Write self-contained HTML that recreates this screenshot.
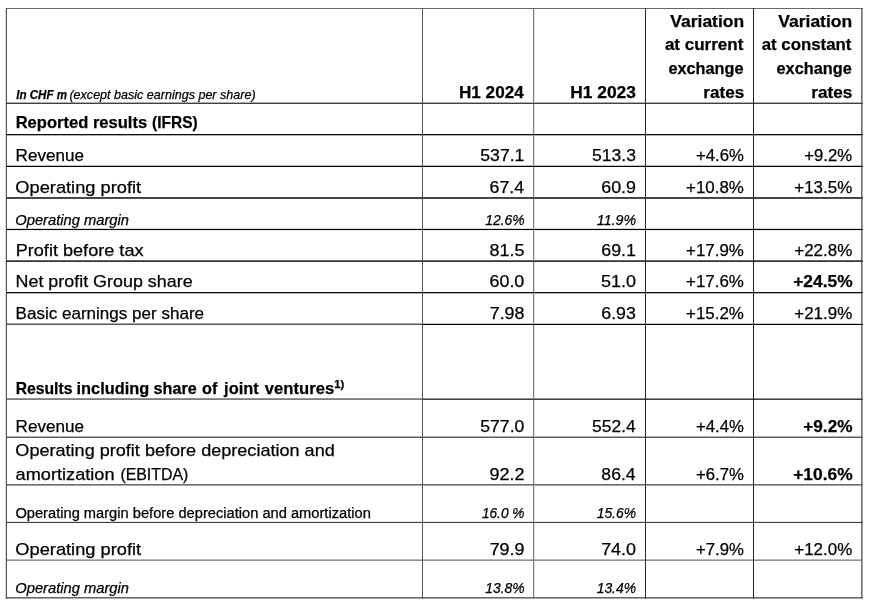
<!DOCTYPE html><html><head><meta charset="utf-8"><title>Results</title><style>
html,body{margin:0;padding:0;background:#fff;}body{width:871px;height:607px;position:relative;overflow:hidden;font-family:"Liberation Sans",sans-serif;color:#000;}
.t{position:absolute;white-space:nowrap;-webkit-text-stroke:0.25px #000;line-height:24px;height:24px;}
.l{transform-origin:0 50%;}.r{transform-origin:100% 50%;text-align:right;}
sup{font-size:68%;vertical-align:baseline;position:relative;top:-0.5em;line-height:0;}
svg{position:absolute;left:0;top:0;}
#w{position:absolute;left:0;top:0;width:871px;height:607px;will-change:transform;}
</style></head><body>
<svg width="871" height="607" viewBox="0 0 871 607" shape-rendering="crispEdges">
<rect x="6" y="230" width="857" height="1" fill="#eeeeee"/>
<rect x="6" y="521" width="857" height="1" fill="#e4e4e4"/>
<rect x="534" y="8" width="1" height="591" fill="#e0e0e0"/>
<rect x="6" y="228" width="857" height="1" fill="#d8d8d8"/>
<rect x="5" y="8" width="1" height="591" fill="#d8d8d8"/>
<rect x="422" y="323" width="441" height="1" fill="#cccccc"/>
<rect x="6" y="165" width="857" height="1" fill="#c0c0c0"/>
<rect x="6" y="559" width="857" height="1" fill="#bbbbbb"/>
<rect x="6" y="102" width="857" height="1" fill="#b0b0b0"/>
<rect x="6" y="135" width="857" height="1" fill="#b0b0b0"/>
<rect x="6" y="293" width="857" height="1" fill="#b0b0b0"/>
<rect x="6" y="436" width="857" height="1" fill="#b0b0b0"/>
<rect x="6" y="485" width="857" height="1" fill="#a8a8a8"/>
<rect x="6" y="598" width="857" height="1" fill="#a8a8a8"/>
<rect x="6" y="323" width="416" height="1" fill="#a8a8a8"/>
<rect x="862" y="8" width="1" height="591" fill="#a8a8a8"/>
<rect x="6" y="398" width="416" height="1" fill="#929292"/>
<rect x="6" y="560" width="857" height="1" fill="#909090"/>
<rect x="422" y="398" width="441" height="1" fill="#909090"/>
<rect x="533" y="8" width="1" height="591" fill="#808080"/>
<rect x="6" y="399" width="416" height="1" fill="#7c7c7c"/>
<rect x="861" y="8" width="1" height="591" fill="#707070"/>
<rect x="6" y="260" width="857" height="1" fill="#686868"/>
<rect x="6" y="484" width="857" height="1" fill="#686868"/>
<rect x="6" y="597" width="857" height="1" fill="#686868"/>
<rect x="6" y="8" width="857" height="1" fill="#666666"/>
<rect x="6" y="437" width="857" height="1" fill="#5c5c5c"/>
<rect x="6" y="324" width="416" height="1" fill="#5a5a5a"/>
<rect x="6" y="8" width="1" height="591" fill="#555555"/>
<rect x="422" y="8" width="1" height="591" fill="#555555"/>
<rect x="6" y="198" width="857" height="1" fill="#4a4a4a"/>
<rect x="6" y="197" width="857" height="1" fill="#444444"/>
<rect x="6" y="103" width="857" height="1" fill="#404040"/>
<rect x="6" y="522" width="857" height="1" fill="#404040"/>
<rect x="422" y="399" width="441" height="1" fill="#404040"/>
<rect x="6" y="261" width="857" height="1" fill="#333333"/>
<rect x="645" y="8" width="1" height="591" fill="#2a2a2a"/>
<rect x="753" y="8" width="1" height="591" fill="#202020"/>
<rect x="6" y="292" width="857" height="1" fill="#111111"/>
<rect x="6" y="134" width="857" height="1" fill="#101010"/>
<rect x="6" y="166" width="857" height="1" fill="#000000"/>
<rect x="6" y="229" width="857" height="1" fill="#000000"/>
<rect x="422" y="324" width="441" height="1" fill="#000000"/>
</svg>
<div id="w">
<div class="t l" id="t0" style="top:83px;font-size:12.25px;font-weight:700;font-style:italic;left:16px;transform:translateX(0.21px) scaleX(0.9452);">In CHF m</div>
<div class="t l" id="t1" style="top:83px;font-size:12.25px;font-style:italic;left:69px;transform:translateX(0.44px) scaleX(1.0239);">(except basic earnings per share)</div>
<div class="t r" id="t2" style="top:81px;font-size:17.00px;font-weight:700;right:348px;transform:translateX(0.40px) scaleX(1.0062);">H1 2024</div>
<div class="t r" id="t3" style="top:81px;font-size:17.00px;font-weight:700;right:235px;transform:translateX(-0.40px) scaleX(1.0219);">H1 2023</div>
<div class="t r" id="t4" style="top:10px;font-size:17.00px;font-weight:700;right:127px;transform:translateX(0.35px) scaleX(1.0287);">Variation</div>
<div class="t r" id="t5" style="top:10px;font-size:17.00px;font-weight:700;right:19px;transform:translateX(0.35px) scaleX(1.0287);">Variation</div>
<div class="t r" id="t6" style="top:33px;font-size:17.00px;font-weight:700;right:128px;transform:translateX(-0.06px) scaleX(1.0006);">at current</div>
<div class="t r" id="t7" style="top:33px;font-size:17.00px;font-weight:700;right:19px;transform:translateX(-0.28px) scaleX(0.9890);">at constant</div>
<div class="t r" id="t8" style="top:57px;font-size:17.00px;font-weight:700;right:128px;transform:translateX(-0.01px) scaleX(0.9558);">exchange</div>
<div class="t r" id="t9" style="top:57px;font-size:17.00px;font-weight:700;right:20px;transform:translateX(0.26px) scaleX(0.9579);">exchange</div>
<div class="t r" id="t10" style="top:81px;font-size:17.00px;font-weight:700;right:126px;transform:translateX(-0.47px) scaleX(1.0066);">rates</div>
<div class="t r" id="t11" style="top:81px;font-size:17.00px;font-weight:700;right:18px;transform:translateX(-0.23px) scaleX(1.0110);">rates</div>
<div class="t l" id="t12" style="top:111px;font-size:17.00px;font-weight:700;left:16px;transform:translateX(-0.36px) scaleX(0.9738);">Reported results</div>
<div class="t l" id="t13" style="top:111px;font-size:17.00px;font-weight:700;left:152px;transform:translateX(-0.01px) scaleX(0.9130);">(IFRS)</div>
<div class="t l" id="t14" style="top:144px;font-size:17.00px;left:16px;transform:translateX(-0.45px) scaleX(1.0049);">Revenue</div>
<div class="t r" id="t15" style="top:144px;font-size:17.00px;right:346px;transform:translateX(-0.12px) scaleX(1.0369);">537.1</div>
<div class="t r" id="t16" style="top:144px;font-size:17.00px;right:235px;transform:translateX(0.38px) scaleX(1.0326);">513.3</div>
<div class="t r" id="t17" style="top:144px;font-size:17.00px;right:127px;transform:translateX(0.24px) scaleX(0.9845);">+4.6%</div>
<div class="t r" id="t18" style="top:144px;font-size:17.00px;right:18px;transform:translateX(-0.46px) scaleX(0.9847);">+9.2%</div>
<div class="t l" id="t19" style="top:176px;font-size:17.00px;left:15px;transform:translateX(0.33px) scaleX(1.0734);">Operating profit</div>
<div class="t r" id="t20" style="top:176px;font-size:17.00px;right:347px;transform:translateX(-0.02px) scaleX(1.0440);">67.4</div>
<div class="t r" id="t21" style="top:176px;font-size:17.00px;right:235px;transform:translateX(-0.15px) scaleX(1.0498);">60.9</div>
<div class="t r" id="t22" style="top:176px;font-size:17.00px;right:127px;transform:translateX(-0.26px) scaleX(0.9954);">+10.8%</div>
<div class="t r" id="t23" style="top:176px;font-size:17.00px;right:19px;transform:translateX(0.07px) scaleX(0.9957);">+13.5%</div>
<div class="t l" id="t24" style="top:209px;font-size:13.80px;font-style:italic;left:15px;transform:translateX(0.27px) scaleX(1.0671);">Operating margin</div>
<div class="t r" id="t25" style="top:209px;font-size:13.80px;font-style:italic;right:346px;transform:translateX(-0.49px) scaleX(1.0070);">12.6%</div>
<div class="t r" id="t26" style="top:209px;font-size:13.80px;font-style:italic;right:235px;transform:translateX(0.06px) scaleX(1.0314);">11.9%</div>
<div class="t l" id="t27" style="top:239px;font-size:17.00px;left:16px;transform:translateX(-0.34px) scaleX(1.0656);">Profit before tax</div>
<div class="t r" id="t28" style="top:239px;font-size:17.00px;right:347px;transform:translateX(0.40px) scaleX(1.0546);">81.5</div>
<div class="t r" id="t29" style="top:239px;font-size:17.00px;right:235px;transform:translateX(-0.17px) scaleX(1.0487);">69.1</div>
<div class="t r" id="t30" style="top:239px;font-size:17.00px;right:127px;transform:translateX(-0.26px) scaleX(0.9954);">+17.9%</div>
<div class="t r" id="t31" style="top:239px;font-size:17.00px;right:19px;transform:translateX(0.07px) scaleX(0.9957);">+22.8%</div>
<div class="t l" id="t32" style="top:270px;font-size:17.00px;left:16px;transform:translateX(-0.49px) scaleX(1.0528);">Net profit Group share</div>
<div class="t r" id="t33" style="top:270px;font-size:17.00px;right:347px;transform:translateX(0.19px) scaleX(1.0497);">60.0</div>
<div class="t r" id="t34" style="top:270px;font-size:17.00px;right:235px;transform:translateX(-0.00px) scaleX(1.0581);">51.0</div>
<div class="t r" id="t35" style="top:270px;font-size:17.00px;right:127px;transform:translateX(-0.26px) scaleX(0.9954);">+17.6%</div>
<div class="t r" id="t36" style="top:270px;font-size:17.00px;font-weight:700;right:19px;transform:translateX(0.44px) scaleX(1.0206);">+24.5%</div>
<div class="t l" id="t37" style="top:302px;font-size:17.00px;left:16px;transform:translateX(-0.43px) scaleX(1.0024);">Basic earnings per share</div>
<div class="t r" id="t38" style="top:302px;font-size:17.00px;right:347px;transform:translateX(0.36px) scaleX(1.0502);">7.98</div>
<div class="t r" id="t39" style="top:302px;font-size:17.00px;right:235px;transform:translateX(-0.24px) scaleX(1.0458);">6.93</div>
<div class="t r" id="t40" style="top:302px;font-size:17.00px;right:127px;transform:translateX(-0.26px) scaleX(0.9954);">+15.2%</div>
<div class="t r" id="t41" style="top:302px;font-size:17.00px;right:19px;transform:translateX(0.07px) scaleX(0.9957);">+21.9%</div>
<div class="t l" id="t42" style="top:377px;font-size:17.00px;font-weight:700;left:16px;transform:translateX(-0.32px) scaleX(0.9239);">Results</div>
<div class="t l" id="t43" style="top:377px;font-size:17.00px;font-weight:700;left:77px;transform:translateX(-0.47px) scaleX(0.9616);">including</div>
<div class="t l" id="t44" style="top:377px;font-size:17.00px;font-weight:700;left:154px;transform:translateX(-0.40px) scaleX(0.9485);">share</div>
<div class="t l" id="t45" style="top:377px;font-size:17.00px;font-weight:700;left:202px;transform:translateX(0.04px) scaleX(0.9536);">of</div>
<div class="t l" id="t46" style="top:377px;font-size:17.00px;font-weight:700;left:224px;transform:translateX(0.12px) scaleX(0.9675);">joint</div>
<div class="t l" id="t47" style="top:377px;font-size:17.00px;font-weight:700;left:265px;transform:translateX(-0.19px) scaleX(0.9793);">ventures<sup>1)</sup></div>
<div class="t l" id="t48" style="top:415px;font-size:17.00px;left:16px;transform:translateX(-0.45px) scaleX(1.0049);">Revenue</div>
<div class="t r" id="t49" style="top:415px;font-size:17.00px;right:346px;transform:translateX(-0.21px) scaleX(1.0360);">577.0</div>
<div class="t r" id="t50" style="top:415px;font-size:17.00px;right:235px;transform:translateX(0.15px) scaleX(1.0251);">552.4</div>
<div class="t r" id="t51" style="top:415px;font-size:17.00px;right:127px;transform:translateX(0.24px) scaleX(0.9845);">+4.4%</div>
<div class="t r" id="t52" style="top:415px;font-size:17.00px;font-weight:700;right:18px;transform:translateX(-0.20px) scaleX(1.0113);">+9.2%</div>
<div class="t l" id="t53" style="top:439px;font-size:17.00px;left:15px;transform:translateX(0.37px) scaleX(1.0627);">Operating profit before depreciation and</div>
<div class="t l" id="t54" style="top:463px;font-size:17.00px;left:16px;transform:translateX(-0.41px) scaleX(1.0683);">amortization</div>
<div class="t l" id="t55" style="top:463px;font-size:17.00px;left:120px;transform:translateX(0.38px) scaleX(0.9346);">(EBITDA)</div>
<div class="t r" id="t56" style="top:463px;font-size:17.00px;right:346px;transform:translateX(-0.46px) scaleX(1.0592);">92.2</div>
<div class="t r" id="t57" style="top:463px;font-size:17.00px;right:235px;transform:translateX(-0.48px) scaleX(1.0355);">86.4</div>
<div class="t r" id="t58" style="top:463px;font-size:17.00px;right:127px;transform:translateX(0.24px) scaleX(0.9845);">+6.7%</div>
<div class="t r" id="t59" style="top:463px;font-size:17.00px;font-weight:700;right:19px;transform:translateX(0.44px) scaleX(1.0206);">+10.6%</div>
<div class="t l" id="t60" style="top:502px;font-size:13.80px;left:15px;transform:translateX(0.39px) scaleX(1.0629);">Operating margin before depreciation and amortization</div>
<div class="t r" id="t61" style="top:502px;font-size:13.80px;font-style:italic;right:346px;transform:translateX(-0.49px) scaleX(0.9907);">16.0 %</div>
<div class="t r" id="t62" style="top:502px;font-size:13.80px;font-style:italic;right:235px;transform:translateX(-0.04px) scaleX(1.0081);">15.6%</div>
<div class="t l" id="t63" style="top:538px;font-size:17.00px;left:15px;transform:translateX(0.33px) scaleX(1.0734);">Operating profit</div>
<div class="t r" id="t64" style="top:538px;font-size:17.00px;right:347px;transform:translateX(0.39px) scaleX(1.0529);">79.9</div>
<div class="t r" id="t65" style="top:538px;font-size:17.00px;right:235px;transform:translateX(-0.11px) scaleX(1.0527);">74.0</div>
<div class="t r" id="t66" style="top:538px;font-size:17.00px;right:127px;transform:translateX(0.24px) scaleX(0.9845);">+7.9%</div>
<div class="t r" id="t67" style="top:538px;font-size:17.00px;right:19px;transform:translateX(0.07px) scaleX(0.9957);">+12.0%</div>
<div class="t l" id="t68" style="top:577px;font-size:13.80px;font-style:italic;left:15px;transform:translateX(0.27px) scaleX(1.0671);">Operating margin</div>
<div class="t r" id="t69" style="top:577px;font-size:13.80px;font-style:italic;right:346px;transform:translateX(-0.49px) scaleX(1.0070);">13.8%</div>
<div class="t r" id="t70" style="top:577px;font-size:13.80px;font-style:italic;right:235px;transform:translateX(-0.04px) scaleX(1.0081);">13.4%</div>
</div>
</body></html>
